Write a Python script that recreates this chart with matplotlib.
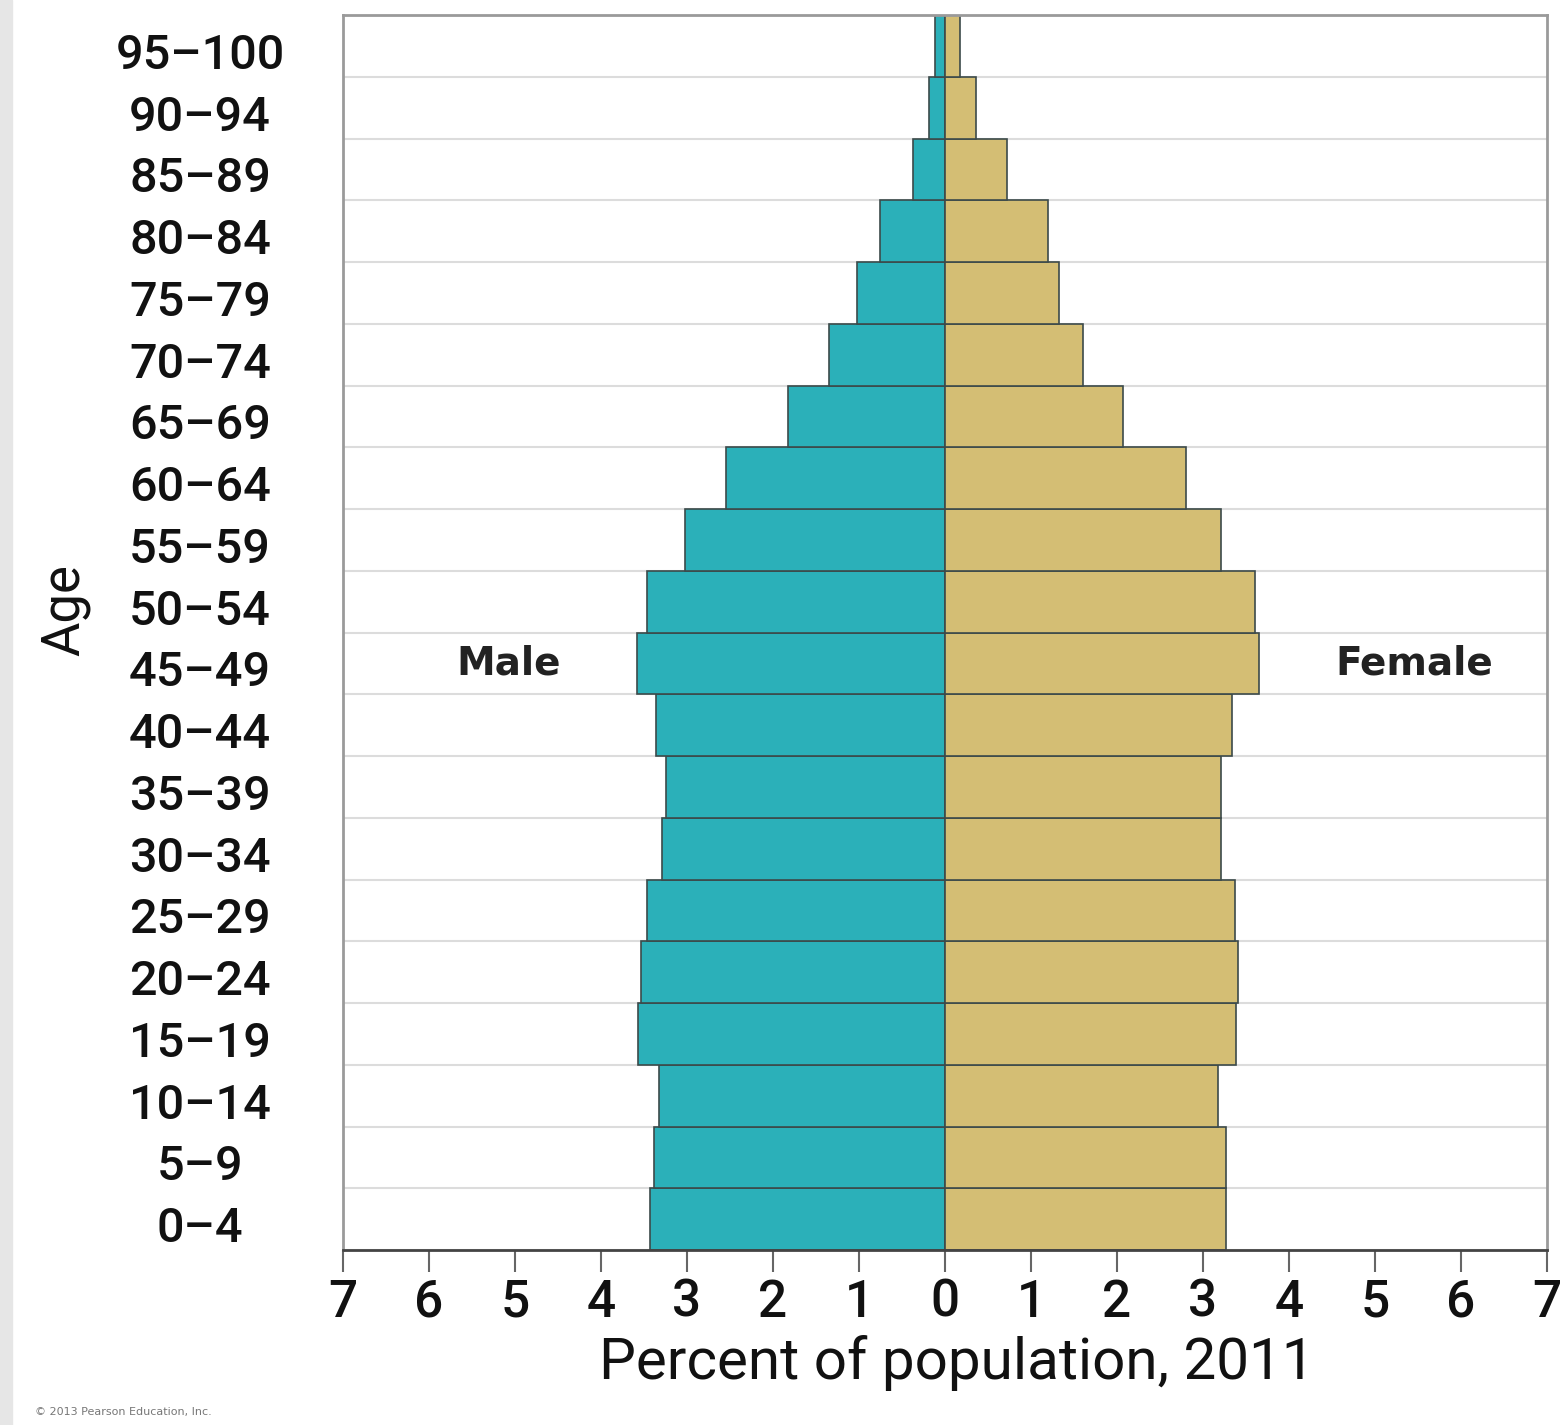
import numpy as np
import matplotlib.pyplot as plt
from matplotlib.patches import Rectangle
from matplotlib.transforms import ScaledTranslation

# Age groups, youngest first
age_groups = ['0–4', '5–9', '10–14', '15–19', '20–24', '25–29', '30–34',
              '35–39', '40–44', '45–49', '50–54', '55–59', '60–64', '65–69',
              '70–74', '75–79', '80–84', '85–89', '90–94', '95–100']

# Percent of total population in each group
male_pct = [3.43, 3.38, 3.32, 3.57, 3.54, 3.46, 3.29, 3.24, 3.36, 3.58,
            3.46, 3.02, 2.55, 1.82, 1.35, 1.02, 0.76, 0.37, 0.19, 0.12]
female_pct = [3.27, 3.27, 3.18, 3.38, 3.41, 3.37, 3.21, 3.21, 3.34, 3.65,
              3.61, 3.21, 2.80, 2.07, 1.60, 1.32, 1.20, 0.72, 0.36, 0.18]

x_ticks = list(range(-7, 8))
x_tick_labels = [str(abs(t)) for t in x_ticks]

MALE_COLOR = '#2bb0b9'
FEMALE_COLOR = '#d4be74'
EDGE = '#3c4a4a'

label_font = ['Roboto', 'DejaVu Sans']

fig = plt.figure(figsize=(15.63, 14.25), dpi=100)
ax = fig.add_axes([343 / 1563, 1 - 1250 / 1425, (1547 - 343) / 1563, (1250 - 15) / 1425])

y = np.arange(len(age_groups))
ax.barh(y, [-v for v in male_pct], height=1.0, color=MALE_COLOR,
        edgecolor=EDGE, linewidth=1.2, zorder=2)
ax.barh(y, female_pct, height=1.0, color=FEMALE_COLOR,
        edgecolor=EDGE, linewidth=1.2, zorder=2)

ax.set_xlim(-7, 7)
ax.set_ylim(-0.5, len(age_groups) - 0.5)

# age labels, centred in a column left of the axes
ax.set_yticks(y)
ax.set_yticklabels(age_groups, fontsize=35, fontweight='medium', family=label_font,
                   ha='center', va='center_baseline', color='#111111')
ax.tick_params(axis='y', which='both', length=0, pad=103)
shift_down = ScaledTranslation(0, -5 / 100, fig.dpi_scale_trans)
for lbl in ax.get_yticklabels():
    lbl.set_transform(lbl.get_transform() + shift_down)

# row separators
ax.set_yticks(np.arange(-0.5, len(age_groups)), minor=True)
ax.grid(True, which='minor', axis='y', color='#dcdcdc', linewidth=1.5, zorder=0)

ax.set_xticks(x_ticks)
ax.set_xticklabels(x_tick_labels, fontsize=37, fontweight='medium', family=label_font,
                   color='#111111')
ax.tick_params(axis='x', direction='out', length=16, width=1.5, color='#666666', pad=4)

for side in ['top', 'left', 'right']:
    ax.spines[side].set_color('#9a9a9a')
    ax.spines[side].set_linewidth(2)
ax.spines['bottom'].set_color('#444444')
ax.spines['bottom'].set_linewidth(2)

ax.set_xlabel('Percent of population, 2011', fontsize=42, family=label_font,
              color='#111111')
ax.xaxis.set_label_coords((957 - 343) / 1204, -0.069)

fig.text(65 / 1563, 1 - 610 / 1425, 'Age', rotation=90, fontsize=38,
         family=label_font, ha='center', va='center', color='#111111')

ax.text(-5.07, 9, 'Male', fontsize=28, fontweight='bold', ha='center', va='center',
        color='#222222')
ax.text(5.46, 9, 'Female', fontsize=28, fontweight='bold', ha='center', va='center',
        color='#222222')

fig.text(35 / 1563, 1 - 1412 / 1425, '© 2013 Pearson Education, Inc.', fontsize=8,
         color='#777777', ha='left', va='center')

# thin grey strip on the left edge
fig.patches.append(Rectangle((0, 0), 12 / 1563, 1, transform=fig.transFigure,
                             color='#e6e6e6', zorder=0))

fig.savefig('out.png', dpi=100)
